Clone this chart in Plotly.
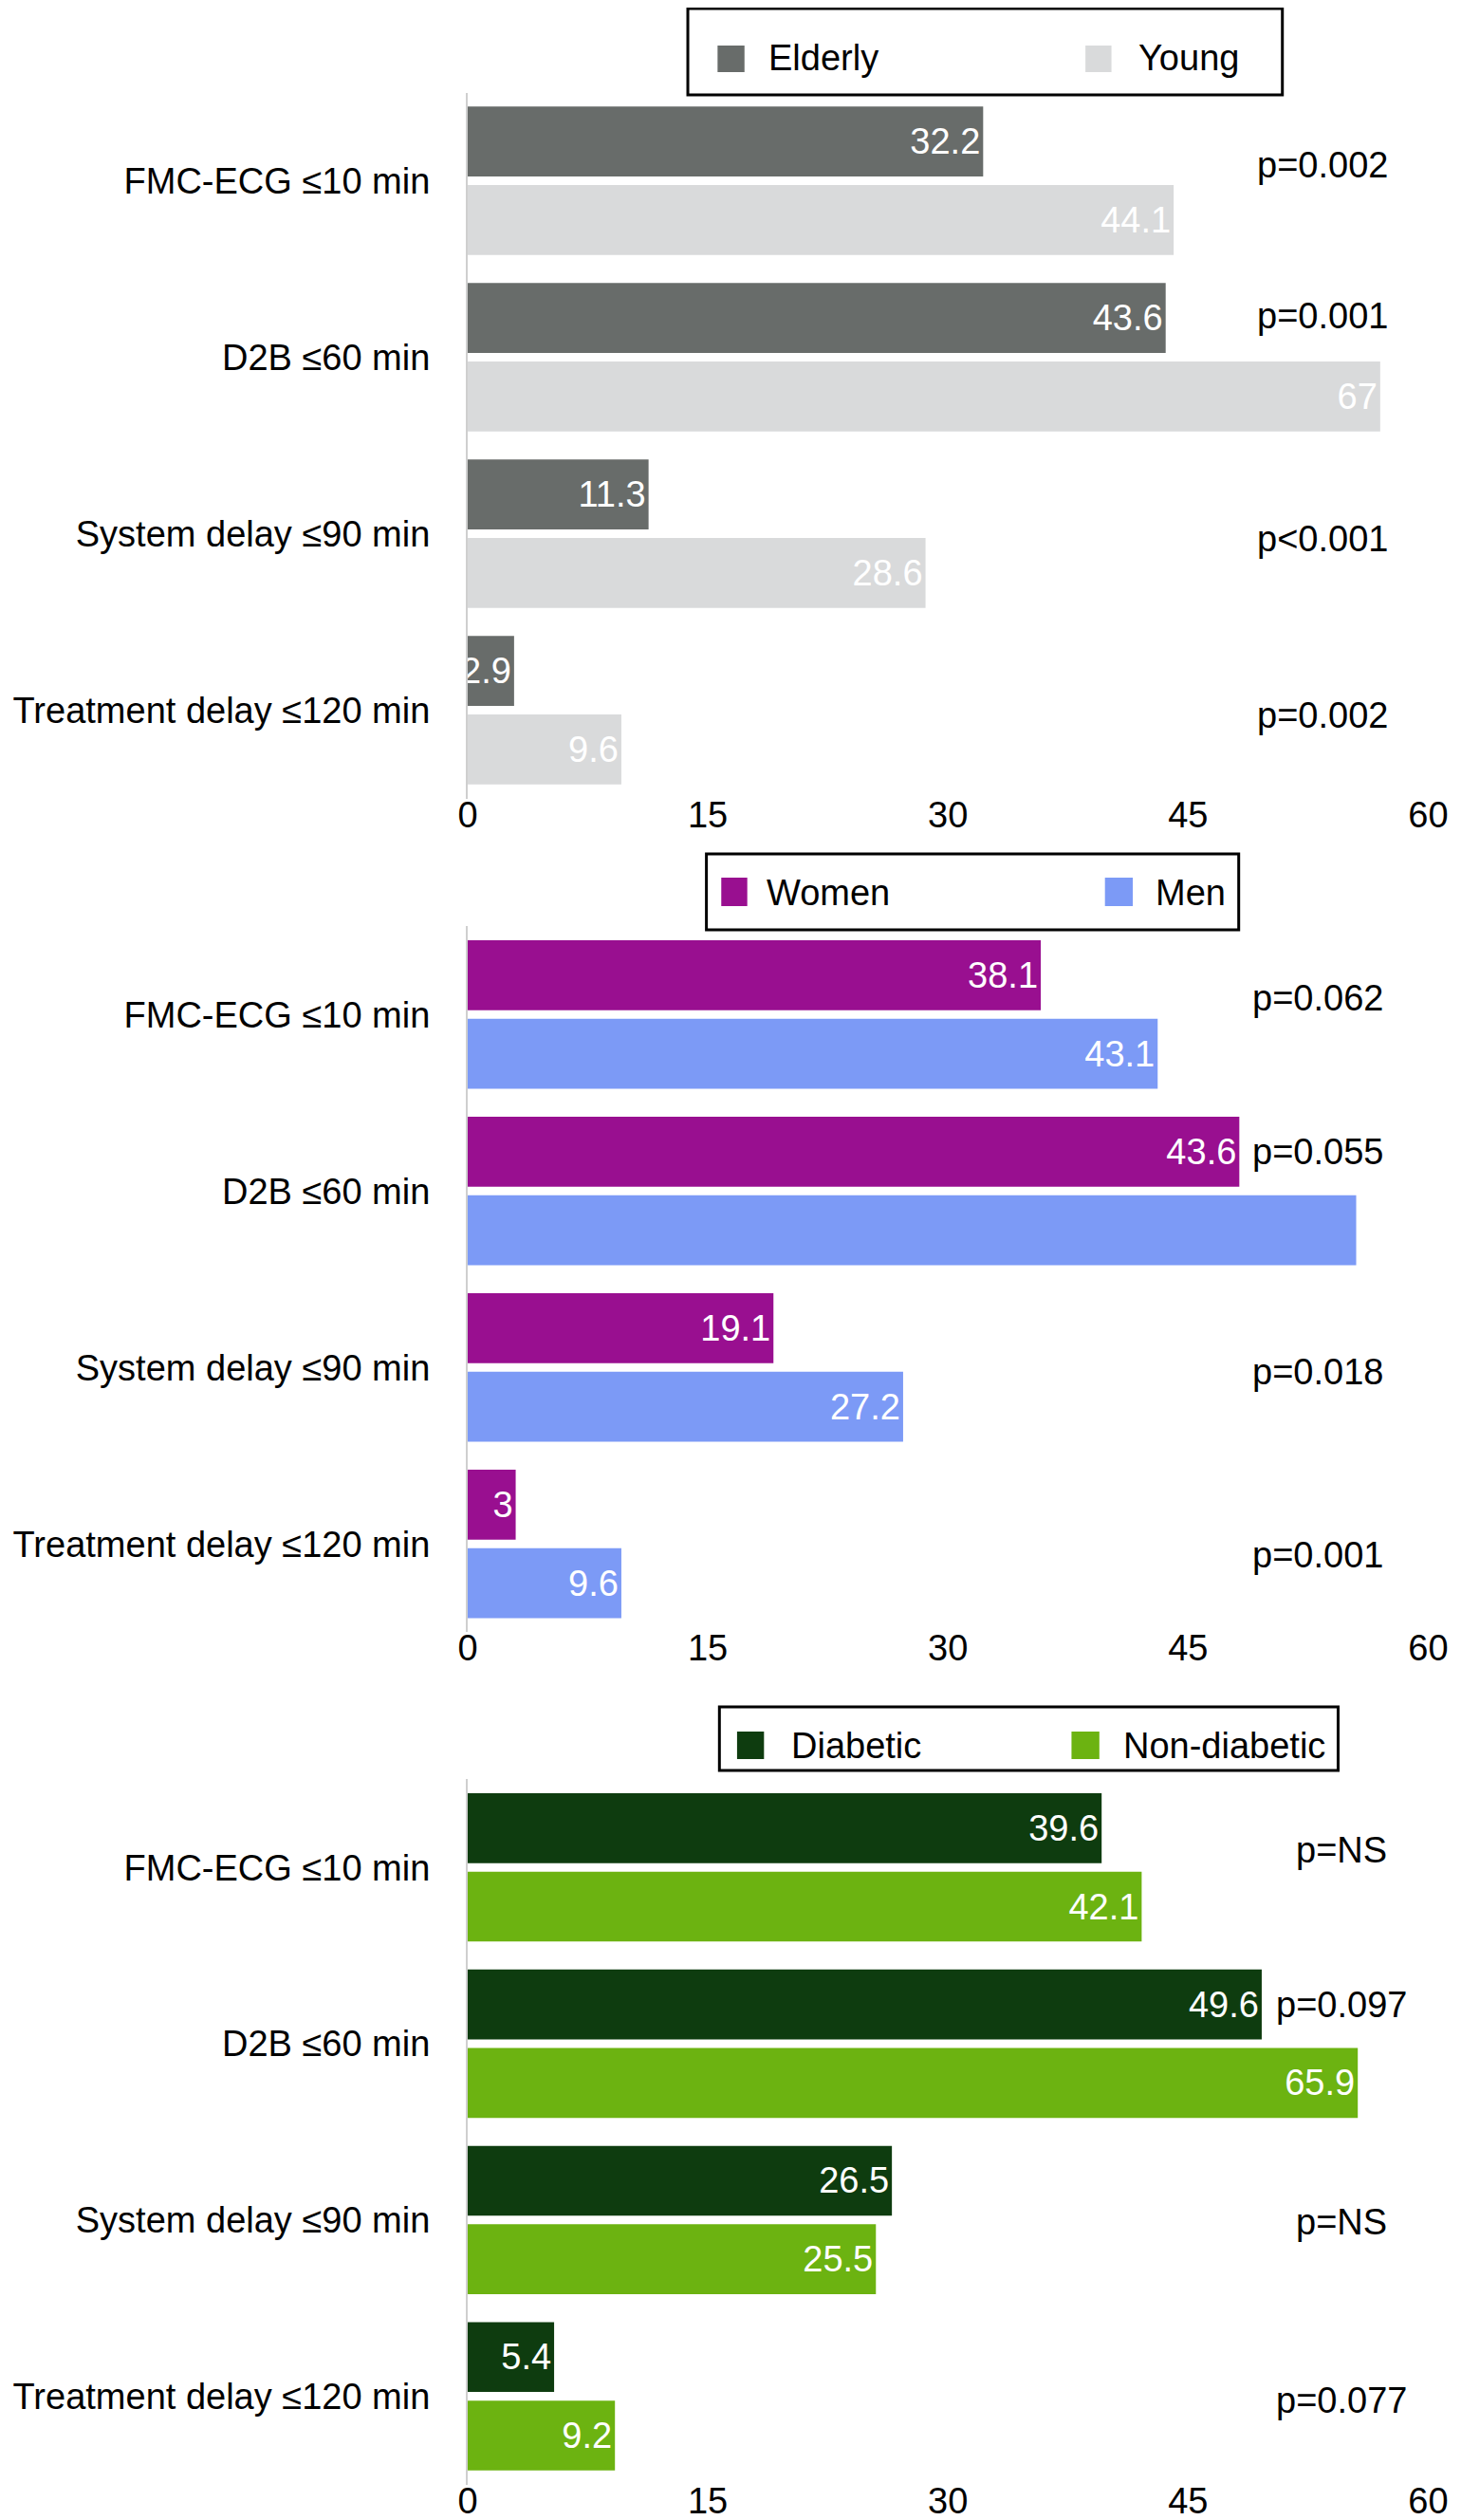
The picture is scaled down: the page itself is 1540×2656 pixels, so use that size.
import plotly.graph_objects as go

# categories (same for all three panels)
categories = ["FMC-ECG ≤10 min", "D2B ≤60 min", "System delay ≤90 min", "Treatment delay ≤120 min"]
x_ticks = [0, 15, 30, 45, 60]

# panel 1 - age
elderly = [32.2, 43.6, 11.3, 2.9]
elderly_labels = ["32.2", "43.6", "11.3", "2.9"]
young = [44.1, 57.0, 28.6, 9.6]
young_labels = ["44.1", "67", "28.6", "9.6"]
p_age = ["p=0.002", "p=0.001", "p<0.001", "p=0.002"]

# panel 2 - sex
women = [35.8, 48.2, 19.1, 3.0]
women_labels = ["38.1", "43.6", "19.1", "3"]
men = [43.1, 55.5, 27.2, 9.6]
men_labels = ["43.1", "", "27.2", "9.6"]
p_sex = ["p=0.062", "p=0.055", "p=0.018", "p=0.001"]

# panel 3 - diabetes
diabetic = [39.6, 49.6, 26.5, 5.4]
diabetic_labels = ["39.6", "49.6", "26.5", "5.4"]
non_diabetic = [42.1, 55.6, 25.5, 9.2]
non_diabetic_labels = ["42.1", "65.9", "25.5", "9.2"]
p_dm = ["p=NS", "p=0.097", "p=NS", "p=0.077"]

W, H = 1540, 2656
FONT = "Liberation Sans"
FS = 38


def px(x):
    return x / W


def py(y):
    return 1 - y / H


panels = [
    dict(names=("Elderly", "Young"), vals=(elderly, young), labels=(elderly_labels, young_labels),
         colors=("#686c6a", "#d9dadb"), pvals=p_age, top=89.5, bottom=833.5,
         p_x=53.4, p_shift=[17, 44, -5, -5],
         box=(721, 1, 1361, 92), sq1=(753, 782), sq2=(1149, 1177), sq_y=(40, 68),
         txt1=806, txt2=1204, txt_y=53),
    dict(names=("Women", "Men"), vals=(women, men), labels=(women_labels, men_labels),
         colors=("#990f90", "#7c9af6"), pvals=p_sex, top=968.3, bottom=1712.3,
         p_x=53.1, p_shift=[17, 41, -5, -12],
         box=(741, 892, 1314, 972), sq1=(757, 785), sq2=(1170, 1200), sq_y=(917, 947),
         txt1=804, txt2=1222, txt_y=933),
    dict(names=("Diabetic", "Non-diabetic"), vals=(diabetic, non_diabetic),
         labels=(diabetic_labels, non_diabetic_labels),
         colors=("#0e3c0f", "#6cb311"), pvals=p_dm, top=1867.3, bottom=2610.5,
         p_x=54.6, p_shift=[18, 41, -2, -4],
         box=(755, 1791, 1421, 1858), sq1=(774, 803), sq2=(1134, 1164), sq_y=(1817, 1846),
         txt1=830, txt2=1188, txt_y=1832),
]

fig = go.Figure()
shapes = []
annotations = []
layout = {}

for i, p in enumerate(panels, start=1):
    sfx = "" if i == 1 else str(i)
    for vals, labels, name, color in zip(p["vals"], p["labels"], p["names"], p["colors"]):
        fig.add_trace(go.Bar(
            x=vals, y=categories, orientation="h", name=name,
            marker=dict(color=color, line=dict(width=0)),
            text=labels, textposition="inside", insidetextanchor="end", textangle=0,
            textfont=dict(color="white", size=FS, family=FONT),
            xaxis="x" + sfx, yaxis="y" + sfx, showlegend=False,
        ))

    layout["xaxis" + sfx] = dict(
        domain=[484 / W, 1518 / W], range=[0, 60], anchor="y" + sfx,
        tickvals=x_ticks, showgrid=False, zeroline=False, showline=False,
        ticks="", ticklabelstandoff=-9,
        tickfont=dict(size=FS, family=FONT, color="black"),
    )
    layout["yaxis" + sfx] = dict(
        domain=[py(p["bottom"]), py(p["top"])], anchor="x" + sfx,
        type="category", categoryorder="array", categoryarray=categories,
        range=[3.5, -0.5], showgrid=False, zeroline=False,
        showline=True, linecolor="#cfcfcf", linewidth=2,
        ticks="", ticklabelstandoff=30,
        tickfont=dict(size=FS, family=FONT, color="black"),
    )

    # p-values next to each category
    for cat, txt, shift in zip(categories, p["pvals"], p["p_shift"]):
        annotations.append(dict(
            x=p["p_x"], y=cat, xref="x" + sfx, yref="y" + sfx, text=txt,
            showarrow=False, xanchor="center", yanchor="middle", yshift=shift,
            font=dict(size=FS, family=FONT, color="black"),
        ))

    # boxed legend above each panel
    x0, y0, x1, y1 = p["box"]
    shapes.append(dict(type="rect", xref="paper", yref="paper",
                       x0=px(x0), x1=px(x1), y0=py(y1), y1=py(y0),
                       line=dict(color="black", width=3), fillcolor="white"))
    for sq, tx, name, color in zip((p["sq1"], p["sq2"]), (p["txt1"], p["txt2"]),
                                   p["names"], p["colors"]):
        shapes.append(dict(type="rect", xref="paper", yref="paper",
                           x0=px(sq[0]), x1=px(sq[1]), y0=py(p["sq_y"][1]), y1=py(p["sq_y"][0]),
                           line=dict(width=0), fillcolor=color))
        annotations.append(dict(
            x=px(tx), y=py(p["txt_y"]), xref="paper", yref="paper", text=name,
            showarrow=False, xanchor="left", yanchor="middle",
            font=dict(size=FS, family=FONT, color="black"),
        ))

fig.update_layout(
    width=W, height=H,
    margin=dict(l=0, r=0, t=0, b=0),
    paper_bgcolor="white", plot_bgcolor="white",
    barmode="group", bargap=0.11, bargroupgap=0.11,
    uniformtext=dict(minsize=FS, mode="show"),
    font=dict(family=FONT, size=FS, color="black"),
    shapes=shapes, annotations=annotations,
    **layout,
)

fig.write_html("out.html")
